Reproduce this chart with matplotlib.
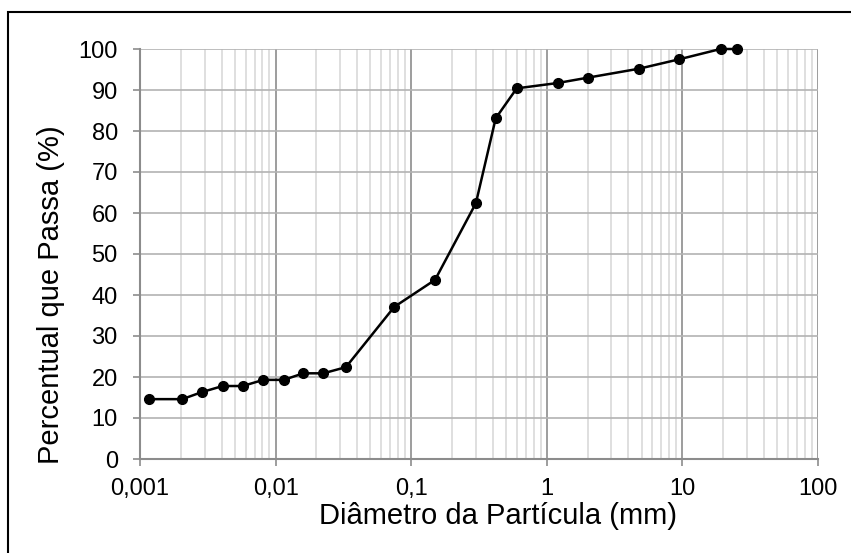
import matplotlib.pyplot as plt
from matplotlib.patches import Rectangle
from matplotlib.ticker import FixedLocator, LogLocator, NullFormatter

plt.rcParams['font.family'] = ['Liberation Sans', 'DejaVu Sans']

# diâmetro (mm) e percentual que passa (%)
diametro = [0.00117, 0.00205, 0.00285, 0.00407, 0.00572, 0.00812, 0.0115,
            0.0160, 0.0225, 0.0330, 0.075, 0.15, 0.30, 0.42, 0.60, 1.2,
            2.0, 4.8, 9.5, 19.1, 25.4]
passa = [14.6, 14.6, 16.3, 17.8, 17.8, 19.3, 19.3,
         20.9, 20.9, 22.4, 37.1, 43.7, 62.4, 83.1, 90.4, 91.7,
         93.0, 95.2, 97.5, 100.0, 100.0]

x_ticks = [0.001, 0.01, 0.1, 1, 10, 100]
x_labels = ['0,001', '0,01', '0,1', '1', '10', '100']
y_ticks = list(range(0, 101, 10))

fig = plt.figure(figsize=(8.51, 5.53), dpi=100)
ax = fig.add_axes([140 / 851, 1 - 459 / 553, 678 / 851, 410 / 553])

ax.plot(diametro, passa, color='black', linewidth=1.8, marker='o',
        markersize=7, zorder=3, clip_on=False)

ax.set_xscale('log')
ax.set_xlim(0.001, 100)
ax.set_ylim(0, 100)
ax.xaxis.set_major_locator(FixedLocator(x_ticks))
ax.set_xticklabels(x_labels)
ax.xaxis.set_minor_locator(LogLocator(base=10, subs=range(2, 10), numticks=50))
ax.xaxis.set_minor_formatter(NullFormatter())
ax.set_yticks(y_ticks)

ax.grid(True, which='major', axis='x', color='#8c8c8c', linewidth=1.2)
ax.grid(True, which='minor', axis='x', color='#d9d9d9', linewidth=1.2)
ax.grid(True, which='major', axis='y', color='#b3b3b3', linewidth=1.2)
ax.set_axisbelow(True)

for s in ['top', 'right']:
    ax.spines[s].set_visible(False)
for s in ['left', 'bottom']:
    ax.spines[s].set_color('#8c8c8c')
    ax.spines[s].set_linewidth(1.5)

ax.tick_params(axis='both', which='major', direction='out', length=5,
               width=1.2, color='#8c8c8c', labelsize=17)
ax.tick_params(axis='x', which='minor', length=0)
ax.tick_params(axis='y', pad=11)
ax.tick_params(axis='x', pad=9)

ax.set_xlabel('Diâmetro da Partícula (mm)', fontsize=21)
ax.set_ylabel('Percentual que Passa (%)', fontsize=21)
ax.xaxis.set_label_coords(0.528, -0.105)
ax.yaxis.set_label_coords(-0.11, 0.4)

# moldura do gráfico
fig.add_artist(Rectangle((8 / 851, -0.1), 1.2, 1 - 12 / 553 + 0.1,
                         transform=fig.transFigure, fill=False,
                         edgecolor='black', linewidth=1.5, clip_on=False))

fig.savefig('out.png', dpi=100)
